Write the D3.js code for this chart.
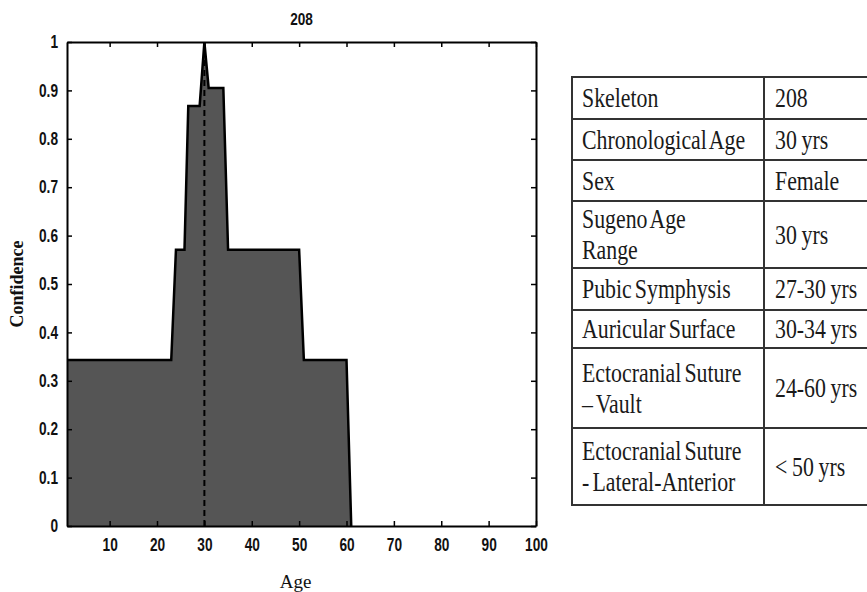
<!DOCTYPE html>
<html>
<head>
<meta charset="utf-8">
<script src="https://cdn.jsdelivr.net/npm/d3@7"></script>
<style>
  html, body { margin: 0; padding: 0; background: #fff; }
  svg { display: block; }
</style>
</head>
<body>
<svg id="chart" width="867" height="592"></svg>
<script>
// Confidence profile for skeleton 208 (age in years vs. membership)
const ages       = [1, 23, 24, 25.8, 26.6, 29, 30, 30.9, 34, 35, 50, 51, 60, 61];
const confidence = [0.343, 0.343, 0.571, 0.571, 0.868, 0.868, 1.0, 0.905, 0.905, 0.571, 0.571, 0.343, 0.343, 0];
const chronologicalAge = 30;
const xTicks = [10, 20, 30, 40, 50, 60, 70, 80, 90, 100];
const yTicks = [0, 0.1, 0.2, 0.3, 0.4, 0.5, 0.6, 0.7, 0.8, 0.9, 1];
const chartTitle = "208";

// Summary table
const tableLabels = [
  ["Skeleton"],
  ["Chronological Age"],
  ["Sex"],
  ["Sugeno Age", "Range"],
  ["Pubic Symphysis"],
  ["Auricular Surface"],
  ["Ectocranial Suture", "\u2013 Vault"],
  ["Ectocranial Suture", "- Lateral-Anterior"]
];
const tableValues = ["208", "30 yrs", "Female", "30 yrs", "27-30 yrs", "30-34 yrs", "24-60 yrs", "< 50 yrs"];

const svg = d3.select("#chart");
const plot = { left: 67, right: 536, top: 42, bottom: 526 };

const x = d3.scaleLinear().domain([1, 100]).range([plot.left, plot.right]);
const y = d3.scaleLinear().domain([0, 1]).range([plot.bottom, plot.top]);

const sansFont = "'Liberation Sans', Arial, sans-serif";
const serifFont = "'Liberation Serif', 'Times New Roman', serif";

// Narrow the glyphs horizontally around each text's own anchor point
function squeeze(sel, sx) {
  sel.each(function () {
    const t = d3.select(this);
    const tx = +t.attr("x") || 0, ty = +t.attr("y") || 0;
    t.attr("x", 0).attr("y", 0)
     .attr("transform", `translate(${tx},${ty}) scale(${sx},1)`);
  });
}

const data = ages.map((a, i) => ({ age: a, conf: confidence[i] }));

// Filled confidence region
const area = d3.area()
  .x(d => x(d.age))
  .y0(y(0))
  .y1(d => y(d.conf));
svg.append("path")
  .datum(data)
  .attr("d", area)
  .attr("fill", "#555555");

const line = d3.line().x(d => x(d.age)).y(d => y(d.conf));
svg.append("path")
  .datum(data)
  .attr("d", line)
  .attr("fill", "none")
  .attr("stroke", "#000")
  .attr("stroke-width", 2.5)
  .attr("stroke-linejoin", "miter");

// Dashed marker at the chronological age
svg.append("line")
  .attr("x1", x(chronologicalAge)).attr("x2", x(chronologicalAge))
  .attr("y1", y(0)).attr("y2", y(1))
  .attr("stroke", "#000")
  .attr("stroke-width", 2)
  .attr("stroke-dasharray", "6,4");

// Axes with inward ticks on all four sides
const fmtY = d => (d === 0 ? "0" : d === 1 ? "1" : d3.format(".1f")(d));

const gBottom = svg.append("g")
  .attr("transform", `translate(0,${plot.bottom})`)
  .call(d3.axisBottom(x).tickValues(xTicks).tickSize(-5).tickSizeOuter(0).tickPadding(12));
const gTop = svg.append("g")
  .attr("transform", `translate(0,${plot.top})`)
  .call(d3.axisTop(x).tickValues(xTicks).tickSize(-5).tickSizeOuter(0).tickFormat(""));
const gLeft = svg.append("g")
  .attr("transform", `translate(${plot.left},0)`)
  .call(d3.axisLeft(y).tickValues(yTicks).tickSize(-5).tickSizeOuter(0).tickPadding(9).tickFormat(fmtY));
const gRight = svg.append("g")
  .attr("transform", `translate(${plot.right},0)`)
  .call(d3.axisRight(y).tickValues(yTicks).tickSize(-5).tickSizeOuter(0).tickFormat(""));

[gBottom, gTop, gLeft, gRight].forEach(g => {
  g.select(".domain").attr("stroke", "#000").attr("stroke-width", 2);
  g.selectAll(".tick line").attr("stroke", "#000").attr("stroke-width", 1.5);
  g.selectAll("text")
    .attr("fill", "#111")
    .attr("font-family", sansFont)
    .attr("font-weight", "bold")
    .attr("font-size", 18);
});
squeeze(gBottom.selectAll(".tick text"), 0.76);
squeeze(gLeft.selectAll(".tick text"), 0.76);

// Title and axis labels
svg.append("text")
  .attr("x", (plot.left + plot.right) / 2)
  .attr("y", 25)
  .attr("text-anchor", "middle")
  .attr("font-family", sansFont)
  .attr("font-weight", "bold")
  .attr("font-size", 17)
  .attr("fill", "#111")
  .text(chartTitle)
  .call(s => squeeze(s, 0.8));

svg.append("text")
  .attr("x", (plot.left + plot.right) / 2 - 6)
  .attr("y", 588)
  .attr("text-anchor", "middle")
  .attr("font-family", serifFont)
  .attr("font-size", 19)
  .attr("fill", "#111")
  .text("Age");

svg.append("text")
  .attr("transform", `translate(23,${(plot.top + plot.bottom) / 2}) rotate(-90)`)
  .attr("text-anchor", "middle")
  .attr("font-family", serifFont)
  .attr("font-weight", "bold")
  .attr("font-size", 18)
  .attr("fill", "#111")
  .text("Confidence");

// Table
const tbl = { left: 572, divider: 764, right: 867 };
const rowEdges = [77, 119, 160, 201, 268, 310, 348, 428, 505];
const tableG = svg.append("g");
const tableSX = 0.8;

tableG.selectAll("line.h")
  .data(rowEdges)
  .join("line")
  .attr("x1", tbl.left).attr("x2", tbl.right)
  .attr("y1", d => d).attr("y2", d => d)
  .attr("stroke", "#333").attr("stroke-width", 2);

[tbl.left, tbl.divider].forEach(vx => {
  tableG.append("line")
    .attr("x1", vx).attr("x2", vx)
    .attr("y1", rowEdges[0] - 1).attr("y2", rowEdges[rowEdges.length - 1] + 1)
    .attr("stroke", "#333").attr("stroke-width", 2);
});

tableLabels.forEach((lines, i) => {
  const top = rowEdges[i], bottom = rowEdges[i + 1];
  const mid = (top + bottom) / 2;
  const spacing = 31;
  lines.forEach((txt, j) => {
    const cy = mid + (j - (lines.length - 1) / 2) * spacing;
    tableG.append("text")
      .attr("x", tbl.left + 10)
      .attr("y", cy + 9)
      .attr("font-family", serifFont)
      .attr("font-size", 28)
      .attr("fill", "#1a1a1a")
      .attr("word-spacing", -3)
      .text(txt)
      .call(s => squeeze(s, 0.78));
  });
  tableG.append("text")
    .attr("x", tbl.divider + 11)
    .attr("y", mid + 9)
    .attr("font-family", serifFont)
    .attr("font-size", 28)
    .attr("fill", "#1a1a1a")
    .attr("word-spacing", -1)
    .text(tableValues[i])
    .call(s => squeeze(s, 0.78));
});
</script>
</body>
</html>
